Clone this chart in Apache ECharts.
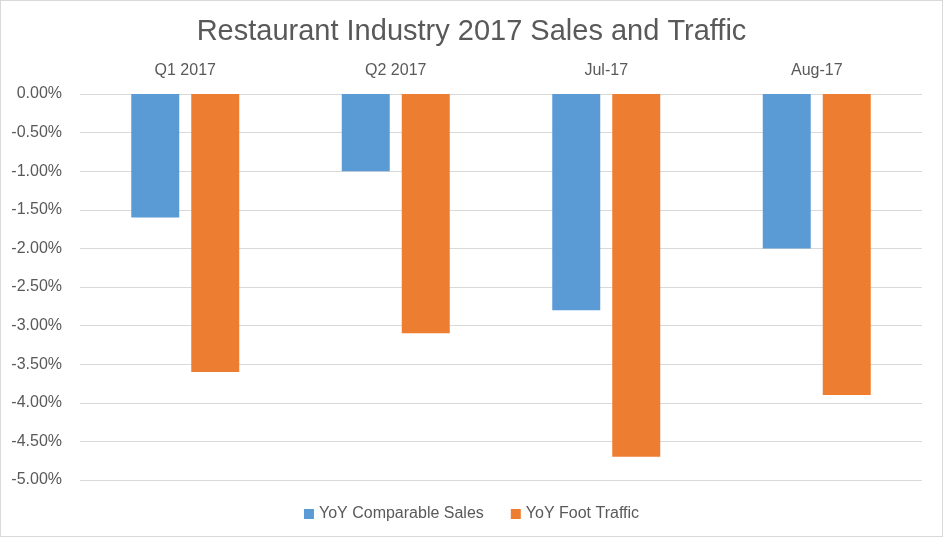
<!DOCTYPE html>
<html><head><meta charset="utf-8">
<script src="https://cdn.jsdelivr.net/npm/echarts@6/dist/echarts.min.js"></script>
<style>html,body{margin:0;padding:0;background:#fff}#c{width:943px;height:537px;box-sizing:border-box;border:1px solid #d9d9d9}</style>
</head><body><div id="c"></div>
<script>
const categories = ['Q1 2017', 'Q2 2017', 'Jul-17', 'Aug-17'];
const comparableSales = [-1.6, -1.0, -2.8, -2.0];
const footTraffic = [-3.6, -3.1, -4.7, -3.9];
const chart = echarts.init(document.getElementById('c'));
const font = 'Liberation Sans, Arial, sans-serif';
chart.setOption({
  animation: false,
  textStyle: {fontFamily: font},
  title: {text: 'Restaurant Industry 2017 Sales and Traffic', left: 'center', top: 11,
    textStyle: {fontFamily: font, fontSize: 29, fontWeight: 'normal', color: '#595959'}},
  legend: {bottom: 9, left: 'center', itemWidth: 10, itemHeight: 10, itemGap: 27, icon: 'rect',
    textStyle: {fontSize: 16, color: '#595959'}},
  grid: {left: 79, right: 20, top: 93, bottom: 56, containLabel: false},
  xAxis: {type: 'category', position: 'top', data: categories,
    axisLine: {show: false}, axisTick: {show: false},
    axisLabel: {fontSize: 16, color: '#595959', margin: 15}},
  yAxis: {type: 'value', min: -5, max: 0, interval: 0.5,
    axisLine: {show: false}, axisTick: {show: false},
    splitLine: {lineStyle: {color: '#d9d9d9'}},
    axisLabel: {fontSize: 16, color: '#595959', margin: 18, formatter: v => v.toFixed(2) + '%'}},
  series: [
    {name: 'YoY Comparable Sales', type: 'bar', data: comparableSales, barWidth: 48, barGap: '25%', itemStyle: {color: '#5B9BD5'}},
    {name: 'YoY Foot Traffic', type: 'bar', data: footTraffic, barWidth: 48, itemStyle: {color: '#ED7D31'}}
  ]
});
</script></body></html>
